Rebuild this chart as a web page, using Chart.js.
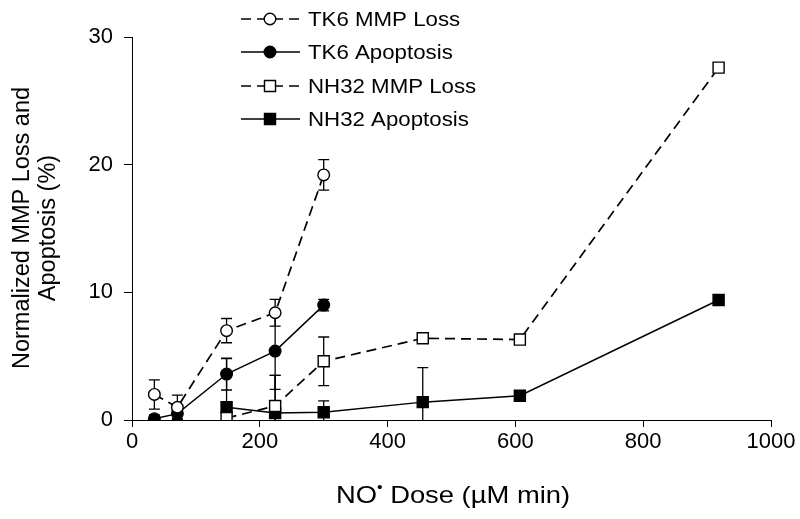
<!DOCTYPE html>
<html><head><meta charset="utf-8">
<style>html,body{margin:0;padding:0;background:#fff}#wrap{width:800px;height:519px;position:relative}</style>
<script src="https://cdn.jsdelivr.net/npm/chart.js@4.4.1/dist/chart.umd.min.js"></script>
</head><body><div id="wrap"><canvas id="c"></canvas></div>
<script>
// ---- data ----
const tk6Dose     = [35, 71, 148, 224, 300];
const tk6Mmp      = [2.0, 1.0, 7.0, 8.4, 19.2];
const tk6MmpErr   = [1.15, 0.95, 0.95, 1.05, 1.2];
const tk6Apop     = [0.1, 0.5, 3.6, 5.4, 9.0];
const tk6ApopErr  = [0.3, 0.4, 1.25, 3.0, 0.45];
const nh32Dose    = [148, 224, 300, 455, 607, 918];
const nh32Mmp     = [0.15, 1.1, 4.6, 6.4, 6.3, 27.6];
const nh32MmpErr  = [0.2, 2.4, 1.9, 0.4, 0.2, 0.2];
const nh32Apop    = [1.0, 0.55, 0.6, 1.4, 1.9, 9.4];
const nh32ApopErr = [3.8, 2.95, 0.9, 2.7, 0.2, 0.2];
const seriesLabels = ['TK6 MMP Loss', 'TK6 Apoptosis', 'NH32 MMP Loss', 'NH32 Apoptosis'];
const xTicks = [0, 200, 400, 600, 800, 1000];
const yTicks = [0, 10, 20, 30];
const yTitleLines = ['Normalized MMP Loss and', 'Apoptosis (%)'];
const xTitleParts = ['NO', '\u2022', ' Dose (\u00B5M min)'];

const FONT = '"Liberation Sans", Arial, sans-serif';
function pts(xs, ys) { return xs.map((x, i) => ({ x: x, y: ys[i] })); }

const errorBars = {
  id: 'errorBars',
  beforeDatasetsDraw(chart) {
    const { ctx, chartArea: a, scales: { x, y } } = chart;
    ctx.save();
    ctx.beginPath();
    ctx.rect(a.left, a.top - 30, a.right - a.left, a.bottom - a.top + 30);
    ctx.clip();
    ctx.strokeStyle = '#000';
    ctx.lineWidth = 1.3;
    ctx.setLineDash([]);
    chart.data.datasets.forEach(ds => {
      ds.data.forEach((p, i) => {
        const e = ds.errors[i];
        const px = x.getPixelForValue(p.x);
        const y1 = y.getPixelForValue(p.y + e), y0 = y.getPixelForValue(p.y - e);
        ctx.beginPath();
        ctx.moveTo(px, y1); ctx.lineTo(px, y0);
        ctx.moveTo(px - 5.5, y1); ctx.lineTo(px + 5.5, y1);
        ctx.moveTo(px - 5.5, y0); ctx.lineTo(px + 5.5, y0);
        ctx.stroke();
      });
    });
    ctx.restore();
  }
};

const decor = {
  id: 'decor',
  afterDraw(chart) {
    const ctx = chart.ctx;
    ctx.save();
    ctx.fillStyle = '#000';
    // legend
    const rows = [19, 52, 86, 119];
    chart.data.datasets.forEach((ds, i) => {
      const yy = rows[i];
      ctx.strokeStyle = '#000';
      ctx.lineWidth = ds.borderWidth;
      ctx.setLineDash(ds.borderDash || []);
      ctx.beginPath(); ctx.moveTo(241, yy); ctx.lineTo(300, yy); ctx.stroke();
      ctx.setLineDash([]);
      ctx.fillStyle = ds.pointBackgroundColor; ctx.strokeStyle = '#000';
      ctx.beginPath();
      if (ds.pointStyle === 'circle') ctx.arc(270, yy, ds.pointRadius, 0, Math.PI * 2);
      else { const s = ds.pointRadius * Math.SQRT1_2; ctx.rect(270 - s, yy - s, 2 * s, 2 * s); }
      ctx.fill(); ctx.lineWidth = ds.pointBorderWidth; ctx.stroke();
      ctx.fillStyle = '#000';
      ctx.font = '21px ' + FONT;
      ctx.textBaseline = 'middle';
      ctx.textAlign = 'left';
      ctx.save();
      ctx.translate(308, yy + 1);
      ctx.scale(1.06, 1);
      ctx.fillText(ds.label, 0, 0);
      ctx.restore();
    });
    // y title
    ctx.font = '23.5px ' + FONT;
    ctx.textAlign = 'center';
    ctx.textBaseline = 'middle';
    [23, 49].forEach((xx, i) => {
      ctx.save(); ctx.translate(xx, 228); ctx.rotate(-Math.PI / 2);
      ctx.fillText(yTitleLines[i], 0, 0); ctx.restore();
    });
    // x title
    ctx.textAlign = 'left';
    const f1 = '24px ' + FONT, f2 = '14px ' + FONT;
    ctx.font = f1; const w0 = ctx.measureText(xTitleParts[0]).width;
    ctx.font = f2; const w1 = ctx.measureText(xTitleParts[1]).width;
    ctx.font = f1; const w2 = ctx.measureText(xTitleParts[2]).width;
    const sx = 1.14;
    const total = (w0 + w1 + w2) * sx;
    ctx.save();
    ctx.translate(453 - total / 2, 496);
    ctx.scale(sx, 1);
    ctx.font = f1; ctx.fillText(xTitleParts[0], 0, 0);
    ctx.font = f2; ctx.fillText(xTitleParts[1], w0, -8);
    ctx.font = f1; ctx.fillText(xTitleParts[2], w0 + w1, 0);
    ctx.restore();
    ctx.restore();
  }
};

new Chart(document.getElementById('c'), {
  type: 'line',
  data: {
    datasets: [
      { label: seriesLabels[0], data: pts(tk6Dose, tk6Mmp), errors: tk6MmpErr,
        borderColor: '#000', borderWidth: 1.7, borderDash: [10, 6], pointStyle: 'circle', pointRadius: 5.8,
        pointBackgroundColor: '#fff', pointBorderColor: '#000', pointBorderWidth: 1.4, tension: 0 },
      { label: seriesLabels[1], data: pts(tk6Dose, tk6Apop), errors: tk6ApopErr,
        borderColor: '#000', borderWidth: 1.5, pointStyle: 'circle', pointRadius: 5.8,
        pointBackgroundColor: '#000', pointBorderColor: '#000', pointBorderWidth: 1.4, tension: 0 },
      { label: seriesLabels[2], data: pts(nh32Dose, nh32Mmp), errors: nh32MmpErr,
        borderColor: '#000', borderWidth: 1.7, borderDash: [10, 6], pointStyle: 'rect', pointRadius: 7.8,
        pointBackgroundColor: '#fff', pointBorderColor: '#000', pointBorderWidth: 1.4, tension: 0 },
      { label: seriesLabels[3], data: pts(nh32Dose, nh32Apop), errors: nh32ApopErr,
        borderColor: '#000', borderWidth: 1.5, pointStyle: 'rect', pointRadius: 7.8,
        pointBackgroundColor: '#000', pointBorderColor: '#000', pointBorderWidth: 1.4, tension: 0 }
    ]
  },
  options: {
    responsive: true, maintainAspectRatio: false, animation: false, devicePixelRatio: 1,
    layout: { padding: { top: 37, right: 29, left: 0, bottom: 0 } },
    plugins: { legend: { display: false }, tooltip: { enabled: false } },
    scales: {
      x: {
        type: 'linear', min: 0, max: 1000,
        afterBuildTicks: s => { s.ticks = xTicks.map(v => ({ value: v })); },
        afterFit: s => { s.height = 99; },
        grid: { display: true, drawOnChartArea: false, drawTicks: true, tickLength: 7, color: '#000', lineWidth: 1 },
        border: { display: true, color: '#000', width: 1 },
        ticks: { color: '#000', font: { family: FONT, size: 22 }, padding: 2, maxRotation: 0,
                 callback: v => String(v) }
      },
      y: {
        type: 'linear', min: 0, max: 30,
        afterBuildTicks: s => { s.ticks = yTicks.map(v => ({ value: v })); },
        afterFit: s => { s.width = 132; },
        grid: { display: true, drawOnChartArea: false, drawTicks: true, tickLength: 8, color: '#000', lineWidth: 1 },
        border: { display: true, color: '#000', width: 1 },
        ticks: { color: '#000', font: { family: FONT, size: 22 }, padding: 11, callback: v => String(v) }
      }
    }
  },
  plugins: [errorBars, decor]
});
</script></body></html>
